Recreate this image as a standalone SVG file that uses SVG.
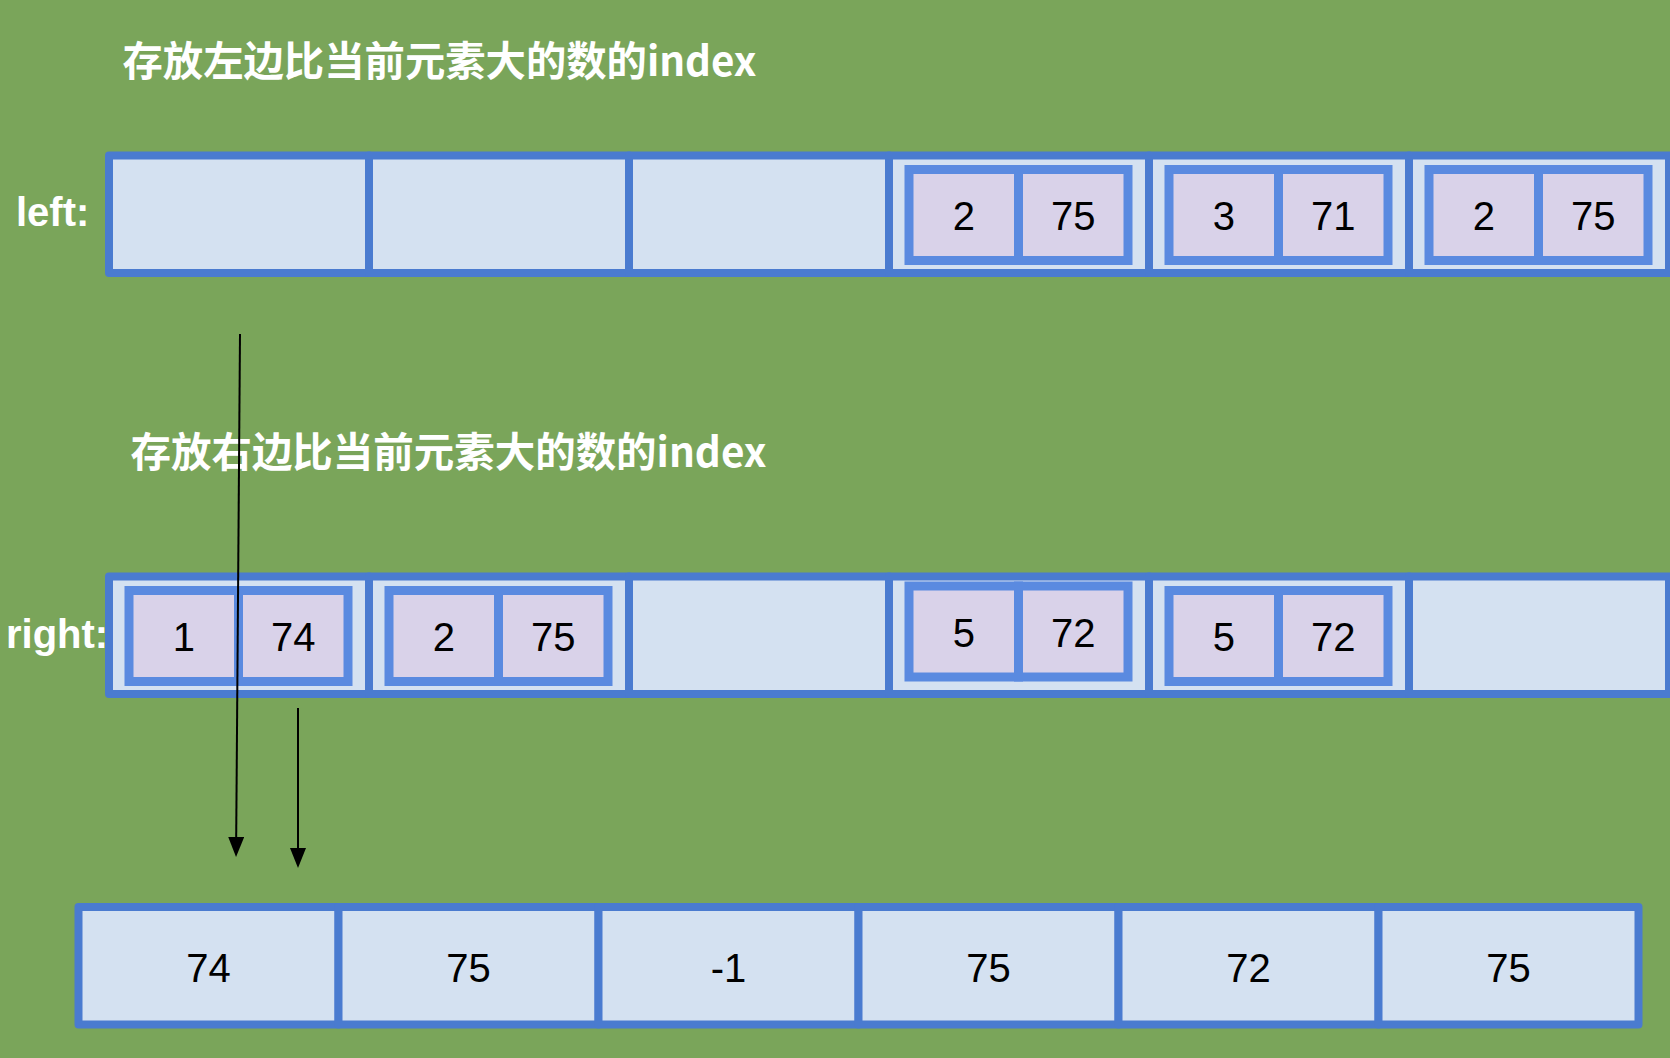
<svg xmlns="http://www.w3.org/2000/svg" width="1670" height="1058" viewBox="0 0 1670 1058">
<defs>
<style>
.bg{fill:#7AA55A}
.cell{fill:#D4E1F1;stroke:#4A7BD0;stroke-width:8;stroke-linejoin:round}
.sub{fill:#D9D2E9;stroke:#5A8AE0;stroke-width:9}
.num{font-family:"Liberation Sans",Arial,sans-serif;font-size:40px;fill:#000;text-anchor:middle}
.title{font-family:"Noto Sans CJK SC","Liberation Sans",sans-serif;font-weight:700;font-size:40.5px;fill:#fff}
.lbl{font-family:"Liberation Sans",Arial,sans-serif;font-weight:700;font-size:40px;fill:#fff}
.conn{stroke:#000;stroke-width:2;fill:none}
</style>
<marker id="arr" markerUnits="userSpaceOnUse" markerWidth="20" markerHeight="16" refX="0" refY="8" orient="auto" viewBox="0 0 20 16">
<path d="M0,0 L20,8 L0,16 Z" fill="#000"/>
</marker>
</defs>
<rect class="bg" x="0" y="0" width="1670" height="1058"/>

<g id="title-left"><text class="title" x="122.5" y="76" textLength="634" lengthAdjust="spacingAndGlyphs">存放左边比当前元素大的数的index</text></g>
<g id="title-right"><text class="title" x="130.5" y="467" textLength="636" lengthAdjust="spacingAndGlyphs">存放右边比当前元素大的数的index</text></g>
<g id="label-left"><text class="lbl" x="16" y="226">left:</text></g>
<g id="label-right"><text class="lbl" x="6" y="648">right:</text></g>

<g id="left-array">
<rect class="cell" x="109" y="155.5" width="260" height="117.5"/>
<rect class="cell" x="369" y="155.5" width="260" height="117.5"/>
<rect class="cell" x="629" y="155.5" width="260" height="117.5"/>
<rect class="cell" x="889" y="155.5" width="260" height="117.5"/>
<rect class="cell" x="1149" y="155.5" width="260" height="117.5"/>
<rect class="cell" x="1409" y="155.5" width="260" height="117.5"/>
<g id="left-3">
<rect class="sub" x="909" y="169.5" width="109.5" height="91"/>
<rect class="sub" x="1018.5" y="169.5" width="109.5" height="91"/>
<text class="num" x="963.75" y="230">2</text>
<text class="num" x="1073.25" y="230">75</text>
</g>
<g id="left-4">
<rect class="sub" x="1169" y="169.5" width="109.5" height="91"/>
<rect class="sub" x="1278.5" y="169.5" width="109.5" height="91"/>
<text class="num" x="1223.75" y="230">3</text>
<text class="num" x="1333.25" y="230">71</text>
</g>
<g id="left-5">
<rect class="sub" x="1429" y="169.5" width="109.5" height="91"/>
<rect class="sub" x="1538.5" y="169.5" width="109.5" height="91"/>
<text class="num" x="1483.75" y="230">2</text>
<text class="num" x="1593.25" y="230">75</text>
</g>
</g>

<g id="right-array">
<rect class="cell" x="109" y="576.5" width="260" height="117.5"/>
<rect class="cell" x="369" y="576.5" width="260" height="117.5"/>
<rect class="cell" x="629" y="576.5" width="260" height="117.5"/>
<rect class="cell" x="889" y="576.5" width="260" height="117.5"/>
<rect class="cell" x="1149" y="576.5" width="260" height="117.5"/>
<rect class="cell" x="1409" y="576.5" width="260" height="117.5"/>
<g id="right-0">
<rect class="sub" x="129" y="590.5" width="109.5" height="91"/>
<rect class="sub" x="238.5" y="590.5" width="109.5" height="91"/>
<text class="num" x="183.75" y="651">1</text>
<text class="num" x="293.25" y="651">74</text>
</g>
<g id="right-1">
<rect class="sub" x="389" y="590.5" width="109.5" height="91"/>
<rect class="sub" x="498.5" y="590.5" width="109.5" height="91"/>
<text class="num" x="443.75" y="651">2</text>
<text class="num" x="553.25" y="651">75</text>
</g>
<g id="right-3">
<rect class="sub" x="909" y="586" width="109.5" height="91"/>
<rect class="sub" x="1018.5" y="586" width="109.5" height="91"/>
<text class="num" x="963.75" y="647">5</text>
<text class="num" x="1073.25" y="647">72</text>
</g>
<g id="right-4">
<rect class="sub" x="1169" y="590.5" width="109.5" height="91"/>
<rect class="sub" x="1278.5" y="590.5" width="109.5" height="91"/>
<text class="num" x="1223.75" y="651">5</text>
<text class="num" x="1333.25" y="651">72</text>
</g>
</g>

<g id="result-array">
<rect class="cell" x="78.5" y="907" width="260" height="117.5"/>
<rect class="cell" x="338.5" y="907" width="260" height="117.5"/>
<rect class="cell" x="598.5" y="907" width="260" height="117.5"/>
<rect class="cell" x="858.5" y="907" width="260" height="117.5"/>
<rect class="cell" x="1118.5" y="907" width="260" height="117.5"/>
<rect class="cell" x="1378.5" y="907" width="260" height="117.5"/>
<text class="num" x="208.5" y="981.5">74</text>
<text class="num" x="468.5" y="981.5">75</text>
<text class="num" x="728.5" y="981.5">-1</text>
<text class="num" x="988.5" y="981.5">75</text>
<text class="num" x="1248.5" y="981.5">72</text>
<text class="num" x="1508.5" y="981.5">75</text>
</g>

<g id="connectors">
<line class="conn" x1="240" y1="334" x2="236.2" y2="837" marker-end="url(#arr)"/>
<line class="conn" x1="298" y1="708" x2="298" y2="848" marker-end="url(#arr)"/>
</g>
</svg>
